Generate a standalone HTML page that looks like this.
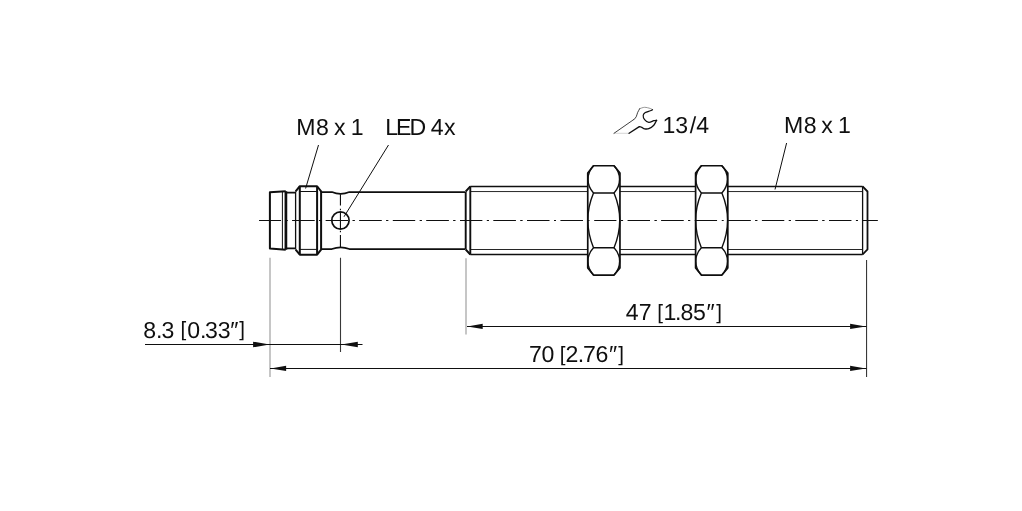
<!DOCTYPE html>
<html lang="en">
<head>
<meta charset="utf-8">
<title>Dimension drawing</title>
<style>
html,body{margin:0;padding:0;background:#fff;}
body{width:1022px;height:511px;overflow:hidden;}
svg{display:block;will-change:transform;}
text{font-family:"Liberation Sans",sans-serif;fill:#0f0f0f;text-rendering:geometricPrecision;}
</style>
</head>
<body>
<svg width="1022" height="511" viewBox="0 0 1022 511">
<rect width="1022" height="511" fill="#fff"/>

<g fill="none">
<path d="M270,257.8 V377 M466,258.2 V334.5" stroke="#c6c6c6" stroke-width="2"/>
<path d="M340.5,257.8 V352 M866.55,260 V377" stroke="#383838" stroke-width="1.1"/>
<path d="M145,344.45 H362.5 M270,368.4 H866.5 M467,326.4 H866.5" stroke="#0f0f0f" stroke-width="1.05"/>
<path d="M318.5,145 L305.6,188.5 M388.5,145 L344,216.75 M786.6,143 L775,189.5" stroke="#0f0f0f" stroke-width="1"/>
</g>
<path d="M269.6,344.5 L253.10000000000002,341.7 L253.10000000000002,347.3 Z" fill="#0f0f0f"/>
<path d="M341.3,344.5 L357.8,341.7 L357.8,347.3 Z" fill="#0f0f0f"/>
<path d="M270.6,368.4 L286.1,365.7 L286.1,371.09999999999997 Z" fill="#0f0f0f"/>
<path d="M865.8,368.4 L850.0999999999999,365.7 L850.0999999999999,371.09999999999997 Z" fill="#0f0f0f"/>
<path d="M467.2,326.4 L482.7,323.7 L482.7,329.09999999999997 Z" fill="#0f0f0f"/>
<path d="M865.8,326.4 L850.0999999999999,323.7 L850.0999999999999,329.09999999999997 Z" fill="#0f0f0f"/>
<path d="M259.2,220.45 H877.6" fill="none" stroke="#0f0f0f" stroke-width="1.1" stroke-dasharray="22.2 4.7 1.95 4.7" stroke-dashoffset="0.5"/>
<path d="M340.44,194.3 V205.6 M340.44,208.8 V210.2 M340.44,212 V229 M340.44,230.8 V232.2 M340.44,235 V246.9 M332,220.45 H348" fill="none" stroke="#0f0f0f" stroke-width="1.1"/>
<g fill="none" stroke="#0f0f0f" stroke-linejoin="round" stroke-linecap="butt">
<path d="M285.75,191.2 L269.9,192.3 V248.6 L285.75,249.7" stroke-width="2"/>
<path d="M282.4,191.4 V249.5" stroke-width="1"/>
<path d="M285.9,191.2 V249.7" stroke-width="2.7"/>
<path d="M285.75,192.6 H295.5 M285.75,248.3 H295.5" stroke-width="1.8"/>
<path d="M295.6,191.4 V249.5" stroke-width="1.3"/>
<path d="M295.6,191.3 L299.8,186.25 H317.1 L321.1,191.3 V249.6 L317.1,254.7 H299.8 L295.6,249.6" stroke-width="2"/>
<path d="M299.8,186.25 V254.7 M317.1,186.25 V254.7" stroke-width="2"/>
<path d="M299.8,191.5 H317.1 M299.8,249.4 H317.1" stroke-width="1"/>
<path d="M321,192.06 H331.9 Q340.6,195.6 349.4,192.06 H465.6 M321,249.06 H331.9 Q340.6,245.5 349.4,249.06 H465.6" stroke-width="1.75"/>
<path d="M465.7,192 V249.1 M465.7,191.5 L470.3,186.45 M465.7,249.5 L470.3,254.5" stroke-width="1.9"/>
<path d="M470.3,186.45 V254.5" stroke-width="1.9"/>
<path d="M470.3,186.45 H862.6 M470.3,254.5 H862.6" stroke-width="1.6"/>
<path d="M470.3,191.55 H862.6 M470.3,249.5 H862.6" stroke-width="0.9"/>
<path d="M862.6,186.45 V254.5" stroke-width="1.3"/>
<path d="M862.6,186.45 L867.5,191.5 V249.4 L862.6,254.5" stroke-width="1.8"/>
<circle cx="340.44" cy="220.45" r="8.65" stroke-width="1.7"/>
</g>
<path d="M593.5,165.75 L614.0500000000001,165.75 L619.95,172.95 L619.95,267.84999999999997 L614.0500000000001,275.05 L593.5,275.05 L587.75,267.84999999999997 L587.75,172.95 Z" fill="#fff" stroke="#0f0f0f" stroke-width="1.7" stroke-linejoin="round"/>
<path d="M593.5,192.95 H614.0500000000001 M593.5,247.64999999999998 H614.0500000000001" fill="none" stroke="#0f0f0f" stroke-width="1.5"/>
<path d="M593.5,165.75 A19.6,19.6 0 0 0 593.5,192.95 A71.3,71.3 0 0 0 593.5,247.64999999999998 A19.6,19.6 0 0 0 593.5,275.05" fill="none" stroke="#0f0f0f" stroke-width="1.4"/>
<path d="M614.0500000000001,165.75 A19.6,19.6 0 0 1 614.0500000000001,192.95 A71.3,71.3 0 0 1 614.0500000000001,247.64999999999998 A19.6,19.6 0 0 1 614.0500000000001,275.05" fill="none" stroke="#0f0f0f" stroke-width="1.4"/>
<path d="M701.35,165.75 L721.9000000000001,165.75 L727.8000000000001,172.95 L727.8000000000001,267.84999999999997 L721.9000000000001,275.05 L701.35,275.05 L695.6,267.84999999999997 L695.6,172.95 Z" fill="#fff" stroke="#0f0f0f" stroke-width="1.7" stroke-linejoin="round"/>
<path d="M701.35,192.95 H721.9000000000001 M701.35,247.64999999999998 H721.9000000000001" fill="none" stroke="#0f0f0f" stroke-width="1.5"/>
<path d="M701.35,165.75 A19.6,19.6 0 0 0 701.35,192.95 A71.3,71.3 0 0 0 701.35,247.64999999999998 A19.6,19.6 0 0 0 701.35,275.05" fill="none" stroke="#0f0f0f" stroke-width="1.4"/>
<path d="M721.9000000000001,165.75 A19.6,19.6 0 0 1 721.9000000000001,192.95 A71.3,71.3 0 0 1 721.9000000000001,247.64999999999998 A19.6,19.6 0 0 1 721.9000000000001,275.05" fill="none" stroke="#0f0f0f" stroke-width="1.4"/>
<path d="M259.2,220.45 H877.6" fill="none" stroke="#0f0f0f" stroke-width="1.1" stroke-dasharray="22.2 4.7 1.95 4.7" stroke-dashoffset="0.5"/>
<g fill="none" stroke-linejoin="round" stroke-linecap="round">
<path d="M614,133.3 H629.1" stroke="#c4c4c4" stroke-width="0.7"/>
<path d="M652.50,109.70 C652.13,109.50 651.62,108.90 650.30,108.50 C648.98,108.10 646.37,107.27 644.60,107.30 C642.83,107.33 640.52,108.47 639.70,108.70" stroke="#6a6a6a" stroke-width="0.7"/>
<path d="M614,133.3 L634.1,119.3 " stroke="#0f0f0f" stroke-width="0.8"/>
<path d="M639.70,108.70 C639.35,109.35 638.18,111.25 637.60,112.60 C637.02,113.95 636.78,115.68 636.20,116.80 C635.62,117.92 634.45,118.88 634.10,119.30" stroke="#0f0f0f" stroke-width="0.8"/>
<path d="M629.1,133.3 L639.3,126.6  C639.72,126.73 640.92,127.03 641.80,127.40 C642.68,127.77 643.43,128.60 644.60,128.80 C645.77,129.00 647.27,129.20 648.80,128.60 C650.33,128.00 652.50,126.58 653.80,125.20 C655.10,123.82 656.13,121.12 656.60,120.30" stroke="#0f0f0f" stroke-width="1.35"/>
<path d="M656.60,120.30 C656.13,120.37 655.10,120.35 653.80,120.70 C652.50,121.05 650.33,122.58 648.80,122.40 C647.27,122.22 645.53,120.77 644.60,119.60 C643.67,118.43 643.08,116.57 643.20,115.40 C643.32,114.23 644.12,113.37 645.30,112.60 C646.48,111.83 649.10,111.28 650.30,110.80 C651.50,110.32 652.13,109.88 652.50,109.70" stroke="#0f0f0f" stroke-width="1.2"/>
</g>
<text x="296.22 316.12 328.96 333.90 345.45 350.63" y="134.75" font-size="23.1">M8 x 1</text>
<text x="385.19 395.93 409.57 426.25 430.84 444.07" y="134.75" font-size="23.1">LED 4x</text>
<text x="662.55 675.18 689.82 696.16" y="132.75" font-size="23.1">13/4</text>
<text x="783.97 803.86 816.70 821.27 832.82 837.93" y="133.1" font-size="23.1">M8 x 1</text>
<text font-size="23.1"><tspan x="143.31 156.06 161.58 174.43" y="337.5">8.3 </tspan><tspan x="180.59" y="336.30" font-size="20.6">[</tspan><tspan x="187.26 199.90 205.11 217.63 230.24" y="337.5">0.33″</tspan><tspan x="239.23" y="336.30" font-size="20.6">]</tspan></text>
<text font-size="23.1"><tspan x="625.75 638.73 651.57" y="319.7">47 </tspan><tspan x="657.35" y="318.50" font-size="20.6">[</tspan><tspan x="663.59 675.02 680.56 693.08 706.56" y="319.7">1.85″</tspan><tspan x="716.17" y="318.50" font-size="20.6">]</tspan></text>
<text font-size="23.1"><tspan x="529.08 541.47 554.31" y="361.9">70 </tspan><tspan x="559.72" y="360.70" font-size="20.6">[</tspan><tspan x="565.52 577.84 582.93 595.59 609.06" y="361.9">2.76″</tspan><tspan x="618.30" y="360.70" font-size="20.6">]</tspan></text>
</svg>
</body>
</html>
